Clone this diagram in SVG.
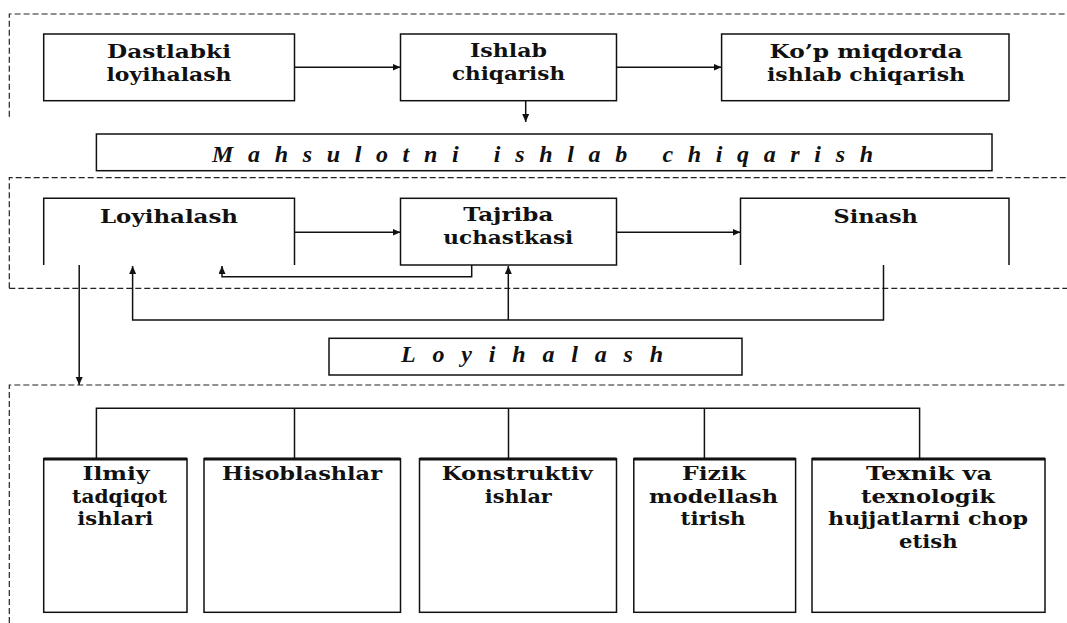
<svg xmlns="http://www.w3.org/2000/svg" width="1067" height="623" viewBox="0 0 1067 623">
<style>
.bg{fill:#fff}
.box{fill:#fff;stroke:#111;stroke-width:1.5}
.open{fill:none;stroke:#111;stroke-width:1.5}
.topedge{stroke:#111;stroke-width:3}
.dash{fill:none;stroke:#222;stroke-width:1.2;stroke-dasharray:6 3}
.conn{fill:none;stroke:#111;stroke-width:1.5}
.t{font-family:"DejaVu Serif","Liberation Serif",serif;font-weight:bold;font-size:19px;fill:#111;text-anchor:middle}
.ti{font-family:"Liberation Serif","DejaVu Serif",serif;font-weight:bold;font-style:italic;font-size:24px;fill:#111;text-anchor:middle}
</style>
<defs>
<marker id="ah" markerUnits="userSpaceOnUse" markerWidth="9" markerHeight="8" refX="8" refY="3.5" orient="auto">
<path d="M0,0 L8,3.5 L0,7 z" fill="#111"/>
</marker>
</defs>
<rect class="bg" x="0" y="0" width="1067" height="623"/>

<g id="regions">
<path class="dash" d="M9.3,116.7 V14 H1067"/>
<path class="dash" d="M9.3,288.3 V177.7 H1067 M9.3,288.3 H1067"/>
<path class="dash" d="M9.3,623 V385 H1067"/>
</g>

<g id="connectors">
<path class="conn" d="M294.5,67.3 H400.5" marker-end="url(#ah)"/>
<path class="conn" d="M616.5,67.3 H721.6" marker-end="url(#ah)"/>
<path class="conn" d="M525.7,100.7 V122" marker-end="url(#ah)"/>
<path class="conn" d="M294.5,232.3 H400.5" marker-end="url(#ah)"/>
<path class="conn" d="M616.5,232.3 H740.5" marker-end="url(#ah)"/>
<path class="conn" d="M471.7,265 V276.7 H222 V266" marker-end="url(#ah)"/>
<path class="conn" d="M883.5,265 V320 H132.6 V266" marker-end="url(#ah)"/>
<path class="conn" d="M508.3,320 V266" marker-end="url(#ah)"/>
<path class="conn" d="M79.2,265 V385" marker-end="url(#ah)"/>
<path class="conn" d="M96.4,458.7 V408.3 H919.6 V458.7 M294.5,408.3 V458.7 M508.5,408.3 V458.7 M704.4,408.3 V458.7"/>
</g>

<g id="n-dastlabki">
<rect class="box" x="43.7" y="34" width="250.8" height="66.7"/>
<text class="t" x="169" y="58" textLength="124" lengthAdjust="spacingAndGlyphs">Dastlabki</text>
<text class="t" x="169" y="81" textLength="125" lengthAdjust="spacingAndGlyphs">loyihalash</text>
</g>
<g id="n-ishlab">
<rect class="box" x="400.5" y="34" width="216" height="66.7"/>
<text class="t" x="508.5" y="57" textLength="77" lengthAdjust="spacingAndGlyphs">Ishlab</text>
<text class="t" x="508.5" y="80" textLength="113" lengthAdjust="spacingAndGlyphs">chiqarish</text>
</g>
<g id="n-kop">
<rect class="box" x="721.6" y="34" width="287.4" height="66.7"/>
<text class="t" x="866" y="58" textLength="193" lengthAdjust="spacingAndGlyphs">Ko’p miqdorda</text>
<text class="t" x="866" y="81" textLength="198" lengthAdjust="spacingAndGlyphs">ishlab chiqarish</text>
</g>
<g id="n-mahsulot">
<rect class="box" x="96.4" y="134" width="895.6" height="36.7"/>
<text class="ti" x="542.5" y="161.7" textLength="661">Mahsulotni ishlab chiqarish</text>
</g>

<g id="n-loyihalash">
<path class="open" d="M43.7,265 V198.3 H294.5 V265"/>
<text class="t" x="169" y="223" textLength="138" lengthAdjust="spacingAndGlyphs">Loyihalash</text>
</g>
<g id="n-tajriba">
<rect class="box" x="400.5" y="198.3" width="216" height="66.7"/>
<text class="t" x="508.3" y="221" textLength="90" lengthAdjust="spacingAndGlyphs">Tajriba</text>
<text class="t" x="508.3" y="243.5" textLength="130" lengthAdjust="spacingAndGlyphs">uchastkasi</text>
</g>
<g id="n-sinash">
<path class="open" d="M740.5,265 V198.3 H1009 V265"/>
<text class="t" x="875.7" y="223" textLength="84.5" lengthAdjust="spacingAndGlyphs">Sinash</text>
</g>
<g id="n-loyihalash-title">
<rect class="box" x="329" y="338.3" width="413" height="36.7"/>
<text class="ti" x="532" y="362" textLength="262">Loyihalash</text>
</g>

<g id="n-ilmiy">
<rect class="box" x="43.7" y="458.7" width="143.3" height="153.6"/>
<line class="topedge" x1="43.7" y1="459" x2="187" y2="459"/>
<text class="t" x="116" y="480" textLength="67" lengthAdjust="spacingAndGlyphs">Ilmiy</text>
<text class="t" x="119.6" y="502.7" textLength="95" lengthAdjust="spacingAndGlyphs">tadqiqot</text>
<text class="t" x="115.3" y="525.3" textLength="76" lengthAdjust="spacingAndGlyphs">ishlari</text>
</g>
<g id="n-hisob">
<rect class="box" x="204" y="458.7" width="196.5" height="153.6"/>
<line class="topedge" x1="204" y1="459" x2="400.5" y2="459"/>
<text class="t" x="302" y="480" textLength="160" lengthAdjust="spacingAndGlyphs">Hisoblashlar</text>
</g>
<g id="n-konstruktiv">
<rect class="box" x="419.5" y="458.7" width="197" height="153.6"/>
<line class="topedge" x1="419.5" y1="459" x2="616.5" y2="459"/>
<text class="t" x="517.2" y="480" textLength="151" lengthAdjust="spacingAndGlyphs">Konstruktiv</text>
<text class="t" x="518.3" y="502.7" textLength="67" lengthAdjust="spacingAndGlyphs">ishlar</text>
</g>
<g id="n-fizik">
<rect class="box" x="633.8" y="458.7" width="161.8" height="153.6"/>
<line class="topedge" x1="633.8" y1="459" x2="795.6" y2="459"/>
<text class="t" x="714" y="480" textLength="64" lengthAdjust="spacingAndGlyphs">Fizik</text>
<text class="t" x="713.5" y="502.7" textLength="129" lengthAdjust="spacingAndGlyphs">modellash</text>
<text class="t" x="713" y="525.3" textLength="65" lengthAdjust="spacingAndGlyphs">tirish</text>
</g>
<g id="n-texnik">
<rect class="box" x="812" y="458.7" width="233" height="153.6"/>
<line class="topedge" x1="812" y1="459" x2="1045" y2="459"/>
<text class="t" x="929" y="480" textLength="126" lengthAdjust="spacingAndGlyphs">Texnik va</text>
<text class="t" x="928" y="502.7" textLength="134" lengthAdjust="spacingAndGlyphs">texnologik</text>
<text class="t" x="928" y="525.3" textLength="200" lengthAdjust="spacingAndGlyphs">hujjatlarni chop</text>
<text class="t" x="928.3" y="548" textLength="58.5" lengthAdjust="spacingAndGlyphs">etish</text>
</g>
</svg>
